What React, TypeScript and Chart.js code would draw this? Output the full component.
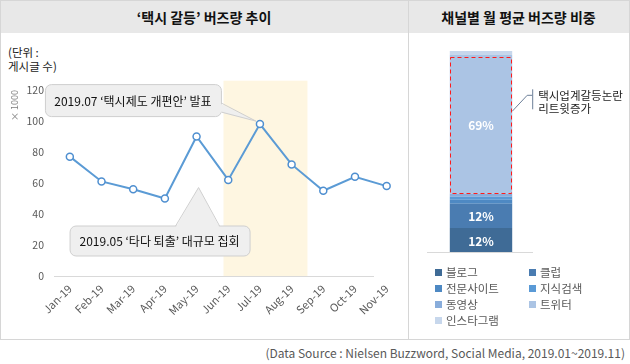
import React, { useEffect, useRef } from 'react';
import { Chart, registerables } from 'chart.js';

Chart.register(...registerables);

const FONT = "'Noto Sans CJK KR', 'Noto Sans', sans-serif";

// ---- Line chart data ----
const months = ['Jan-19', 'Feb-19', 'Mar-19', 'Apr-19', 'May-19', 'Jun-19', 'Jul-19', 'Aug-19', 'Sep-19', 'Oct-19', 'Nov-19'];
const buzzThousands = [77, 61, 56, 50, 90, 62, 98, 72, 55, 64, 58];
const yMin = 0;
const yMax = 120;
const yStep = 20;
const noteJul = '2019.07 ‘택시제도 개편안’ 발표';
const noteMay = '2019.05 ‘타다 퇴출’ 대규모 집회';

// ---- Stacked bar data ----
const channels = ['블로그', '클럽', '전문사이트', '지식검색', '동영상', '트위터', '인스타그램'];
const channelShares = [12, 12, 2, 1.5, 1.5, 69, 2];
const channelColors = ['#3f6b96', '#4a7cb1', '#4e89c3', '#5a9ad6', '#89addb', '#abc4e4', '#c7d7ec'];
const twitterNote = ['택시업계갈등논란', '리트윗증가'];

function roundRect(ctx: CanvasRenderingContext2D, x: number, y: number, w: number, h: number, r: number) {
  ctx.beginPath();
  ctx.moveTo(x + r, y);
  ctx.arcTo(x + w, y, x + w, y + h, r);
  ctx.arcTo(x + w, y + h, x, y + h, r);
  ctx.arcTo(x, y + h, x, y, r);
  ctx.arcTo(x, y, x + w, y, r);
  ctx.closePath();
}

type Pt = [number, number];

function drawCallout(
  ctx: CanvasRenderingContext2D,
  box: { l: number; t: number; r: number; b: number },
  fillPoly: Pt[],
  strokeLine: Pt[],
  text: string
) {
  ctx.save();
  ctx.fillStyle = '#efefef';
  ctx.strokeStyle = '#cfcfcf';
  ctx.lineWidth = 1;
  roundRect(ctx, box.l + 0.5, box.t + 0.5, box.r - box.l, box.b - box.t, 6);
  ctx.fill();
  ctx.stroke();
  ctx.beginPath();
  fillPoly.forEach((p, i) => (i === 0 ? ctx.moveTo(p[0], p[1]) : ctx.lineTo(p[0], p[1])));
  ctx.closePath();
  ctx.fill();
  ctx.beginPath();
  strokeLine.forEach((p, i) => (i === 0 ? ctx.moveTo(p[0], p[1]) : ctx.lineTo(p[0], p[1])));
  ctx.stroke();
  ctx.fillStyle = '#111';
  ctx.font = `12px ${FONT}`;
  ctx.textAlign = 'center';
  ctx.textBaseline = 'middle';
  ctx.fillText(text, (box.l + box.r) / 2, (box.t + box.b) / 2 + 1);
  ctx.restore();
}

const lineDecor = {
  id: 'lineDecor',
  beforeDatasetsDraw(chart: any) {
    const { ctx, chartArea, scales } = chart;
    const x = scales.x;
    const y = scales.y;
    ctx.save();
    // highlight band (Jun-Aug)
    const bx0 = x.getPixelForValue(4.85);
    const bx1 = x.getPixelForValue(7.5);
    const by0 = y.getPixelForValue(126);
    ctx.fillStyle = '#fef6e1';
    ctx.fillRect(bx0, by0, bx1 - bx0, chartArea.bottom - by0);
    // baseline
    ctx.strokeStyle = '#d9d9d9';
    ctx.lineWidth = 1;
    const yb = Math.round(chartArea.bottom) + 0.5;
    ctx.beginPath();
    ctx.moveTo(chartArea.left, yb);
    ctx.lineTo(x.getPixelForValue(9.6), yb);
    ctx.stroke();
    ctx.restore();
  },
  afterDatasetsDraw(chart: any) {
    const { ctx, scales } = chart;
    const x = scales.x;
    const y = scales.y;
    // July callout
    const jx = x.getPixelForValue(6);
    const jy = y.getPixelForValue(buzzThousands[6]);
    const b1 = { l: jx - 215, t: jy - 40, r: jx - 39, b: jy - 8 };
    drawCallout(
      ctx,
      b1,
      [[b1.r - 2, jy - 21], [jx - 4, jy - 3], [b1.r - 2, jy - 12]],
      [[b1.r + 0.5, jy - 21], [jx - 4, jy - 3], [b1.r + 0.5, jy - 12]],
      noteJul
    );
    // May callout
    const mx = x.getPixelForValue(4);
    const my = y.getPixelForValue(buzzThousands[4]);
    const b2 = { l: mx - 127, t: my + 89, r: mx + 53, b: my + 119 };
    drawCallout(
      ctx,
      b2,
      [[mx - 21, b2.t + 2], [mx + 2, my + 51], [mx + 23, b2.t + 2]],
      [[mx - 21, b2.t + 0.5], [mx + 2, my + 51], [mx + 23, b2.t + 0.5]],
      noteMay
    );
  },
};

const barDecor = {
  id: 'barDecor',
  afterDatasetsDraw(chart: any) {
    const { ctx, chartArea, scales } = chart;
    const y = scales.y;
    ctx.save();
    // baseline
    ctx.strokeStyle = '#d9d9d9';
    ctx.lineWidth = 1;
    const yb = Math.round(chartArea.bottom) + 0.5;
    ctx.beginPath();
    ctx.moveTo(chartArea.left - 2, yb);
    ctx.lineTo(chartArea.right, yb);
    ctx.stroke();
    // percentage labels
    ctx.fillStyle = '#ffffff';
    ctx.font = `bold 12px ${FONT}`;
    ctx.textAlign = 'center';
    ctx.textBaseline = 'middle';
    channelShares.forEach((v, i) => {
      if (v < 10) return;
      const el = chart.getDatasetMeta(i).data[0];
      ctx.fillText(`${Math.round(v)}%`, el.x, (el.y + el.base) / 2 + 1);
    });
    // dashed box around twitter
    const tw = chart.getDatasetMeta(5).data[0];
    const l = tw.x - tw.width / 2;
    const r = tw.x + tw.width / 2;
    ctx.strokeStyle = '#ff1a1a';
    ctx.setLineDash([4, 3]);
    ctx.strokeRect(Math.round(l) + 0.5, Math.round(tw.y) + 2.5, Math.round(r - l) - 1, Math.round(tw.base - tw.y) - 3);
    ctx.setLineDash([]);
    // connector
    const ya = y.getPixelForValue(70);
    ctx.strokeStyle = '#6c7f98';
    ctx.beginPath();
    ctx.moveTo(r, ya);
    ctx.lineTo(r + 15, ya - 16);
    ctx.lineTo(r + 20, ya - 16);
    ctx.moveTo(r + 20.5, ya - 22);
    ctx.lineTo(r + 20.5, ya - 2);
    ctx.stroke();
    ctx.fillStyle = '#222';
    ctx.font = `11.5px ${FONT}`;
    ctx.textAlign = 'left';
    ctx.fillText(twitterNote[0], r + 26, ya - 16);
    ctx.fillText(twitterNote[1], r + 26, ya - 3);
    ctx.restore();
  },
};

export default function App() {
  const lineRef = useRef<HTMLCanvasElement>(null);
  const barRef = useRef<HTMLCanvasElement>(null);

  useEffect(() => {
    const lineChart = new Chart(lineRef.current as HTMLCanvasElement, {
      type: 'line',
      data: {
        labels: months,
        datasets: [
          {
            data: buzzThousands,
            borderColor: '#5b9bd5',
            borderWidth: 2,
            pointRadius: 3.5,
            pointBackgroundColor: '#ffffff',
            pointBorderColor: '#4f8fd0',
            pointBorderWidth: 1.5,
            tension: 0,
          },
        ],
      },
      options: {
        responsive: false,
        animation: false,
        layout: { padding: { top: 57, right: 1, left: 0, bottom: 0 } },
        plugins: { legend: { display: false }, tooltip: { enabled: false } },
        scales: {
          x: {
            offset: true,
            grid: { display: false, drawTicks: false },
            border: { display: false },
            ticks: {
              color: '#595959',
              font: { family: FONT, size: 11 },
              minRotation: 45,
              maxRotation: 45,
              padding: 6,
              autoSkip: false,
            },
            afterFit(s: any) {
              s.height = 62;
            },
          },
          y: {
            min: yMin,
            max: yMax,
            ticks: { stepSize: yStep, color: '#595959', font: { family: FONT, size: 10.5 }, padding: 10 },
            grid: { display: false, drawTicks: false },
            border: { display: false },
            title: {
              display: true,
              text: '× 1000',
              align: 'end',
              color: '#7f7f7f',
              font: { family: FONT, size: 9 },
              padding: { top: 9, bottom: 0 },
            },
            afterFit(s: any) {
              s.width = 54;
            },
          },
        },
      },
      plugins: [lineDecor],
    } as any);

    const barChart = new Chart(barRef.current as HTMLCanvasElement, {
      type: 'bar',
      data: {
        labels: [''],
        datasets: channels.map((c, i) => ({
          label: c,
          data: [channelShares[i]],
          backgroundColor: channelColors[i],
          borderWidth: 0,
          barPercentage: 0.6,
          categoryPercentage: 1,
        })),
      },
      options: {
        responsive: false,
        animation: false,
        layout: { padding: { left: 20, right: 97, top: 18, bottom: 86 } },
        plugins: { legend: { display: false }, tooltip: { enabled: false } },
        scales: {
          x: { stacked: true, display: false },
          y: { stacked: true, display: false, min: 0, max: 100 },
        },
      },
      plugins: [barDecor],
    } as any);

    return () => {
      lineChart.destroy();
      barChart.destroy();
    };
  }, []);

  const legendPos = channels.map((c, i) => ({
    name: c,
    color: channelColors[i],
    left: i % 2 === 0 ? 435 : 529,
    top: 272 + Math.floor(i / 2) * 16,
  }));

  return (
    <div
      style={{
        position: 'absolute',
        left: 0,
        top: 0,
        width: 630,
        height: 364,
        background: '#fff',
        fontFamily: FONT,
        overflow: 'hidden',
      }}
    >
      {/* frame */}
      <div
        style={{
          position: 'absolute',
          left: 0,
          top: 0,
          width: 630,
          height: 340,
          boxSizing: 'border-box',
          border: '1px solid #d6d6d6',
        }}
      />
      <div style={{ position: 'absolute', left: 1, top: 1, width: 628, height: 32, background: '#e8e8e8' }} />
      <div style={{ position: 'absolute', left: 408, top: 1, width: 1, height: 338, background: '#d6d6d6' }} />
      <div
        style={{
          position: 'absolute',
          left: 0,
          top: 1,
          width: 408,
          height: 32,
          lineHeight: '32px',
          textAlign: 'center',
          fontSize: 14,
          fontWeight: 'bold',
          color: '#111',
        }}
      >
        ‘택시 갈등’ 버즈량 추이
      </div>
      <div
        style={{
          position: 'absolute',
          left: 409,
          top: 1,
          width: 219,
          height: 32,
          lineHeight: '32px',
          textAlign: 'center',
          fontSize: 14,
          fontWeight: 'bold',
          color: '#111',
        }}
      >
        채널별 월 평균 버즈량 비중
      </div>
      <div
        style={{
          position: 'absolute',
          left: 8,
          top: 45,
          fontSize: 11.5,
          lineHeight: '14px',
          color: '#222',
        }}
      >
        (단위 :<br />
        게시글 수)
      </div>
      <canvas
        ref={lineRef}
        width={408}
        height={305}
        style={{ position: 'absolute', left: 0, top: 33, width: 408, height: 305 }}
      />
      <canvas
        ref={barRef}
        width={221}
        height={305}
        style={{ position: 'absolute', left: 409, top: 33, width: 221, height: 305 }}
      />
      {legendPos.map((e) => (
        <div
          key={e.name}
          style={{
            position: 'absolute',
            left: e.left,
            top: e.top - 8,
            height: 16,
            lineHeight: '16px',
            fontSize: 11.5,
            color: '#595959',
            whiteSpace: 'nowrap',
            display: 'flex',
            alignItems: 'center',
          }}
        >
          <span style={{ display: 'inline-block', width: 7, height: 7, background: e.color, marginRight: 4 }} />
          {e.name}
        </div>
      ))}
      <div
        style={{
          position: 'absolute',
          right: 5,
          top: 345,
          fontSize: 12,
          lineHeight: '16px',
          color: '#595959',
          whiteSpace: 'nowrap',
        }}
      >
        (Data Source : Nielsen Buzzword, Social Media, 2019.01~2019.11)
      </div>
    </div>
  );
}
